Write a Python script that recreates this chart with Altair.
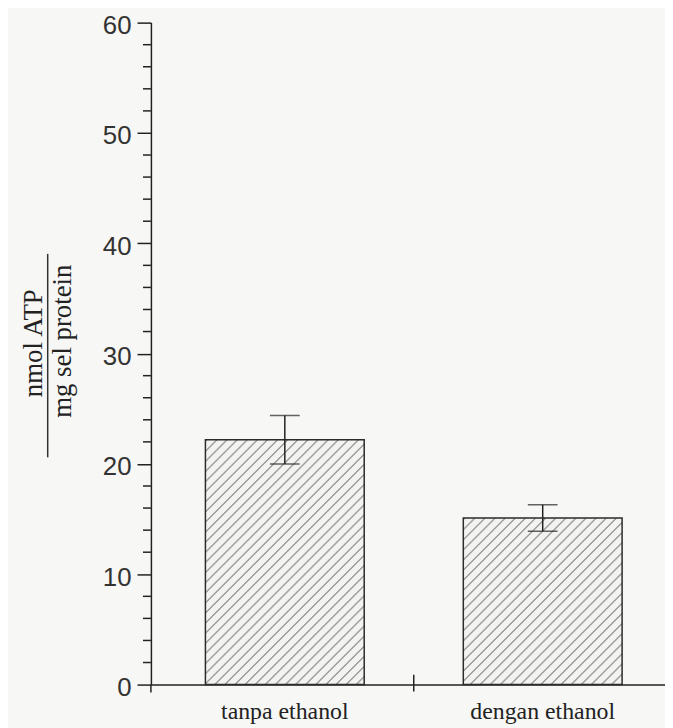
import altair as alt
import pandas as pd

# ---- data ----
categories = ["tanpa ethanol", "dengan ethanol"]
means = [22.2, 15.1]
errors = [2.2, 1.2]
y_major_ticks = [0, 10, 20, 30, 40, 50, 60]
y_minor_ticks = [2, 4, 6, 8, 12, 14, 16, 18, 22, 24, 26, 28, 32, 34, 36, 38,
                 42, 44, 46, 48, 52, 54, 56, 58]
y_title_top = ["nmol ATP"]
y_title_bottom = ["mg sel protein"]

# ---- layout / style ----
W, H = 518, 667
X_MAX = 1.955
Y_MAX = 60
BAR_PX = 160
INK = "#222222"
BG = "#f7f7f5"
HATCH_BG = "#f3f3f2"
HATCH_LINE = "#a2a2a2"

df = pd.DataFrame({"category": categories, "mean": means, "err": errors})
df["pos"] = [i + 0.5 for i in range(len(categories))]
df["lo"] = df["mean"] - df["err"]
df["hi"] = df["mean"] + df["err"]

xscale = alt.Scale(domain=[0, X_MAX], nice=False, zero=False)
yscale = alt.Scale(domain=[0, Y_MAX], nice=False)

x_axis = alt.Axis(ticks=False, labels=False, grid=False, title=None,
                  domainColor=INK, domainWidth=1.5)
y_axis = alt.Axis(values=y_major_ticks, tickSize=14, tickWidth=1.5, tickColor=INK,
                  domainColor=INK, domainWidth=1.5, grid=False, title=None,
                  labelFont="Liberation Sans", labelFontSize=26, labelColor="#333333",
                  labelPadding=6, labelFlush=False, labelBaseline="alphabetic",
                  labelOffset=11)


def hatch(value):
    """Diagonal hatch texture as a striped linear gradient (bbox units)."""
    h = value / Y_MAX * H
    w = BAR_PX
    S = w + h * h / w
    period = 7.2 * 2 ** 0.5 / S
    stops = []
    k = 0
    while k * period < 1.0:
        a = k * period
        for off, col in ((a, HATCH_BG), (a + 0.10 * period, HATCH_LINE),
                         (a + 0.21 * period, HATCH_LINE), (a + 0.31 * period, HATCH_BG)):
            if off <= 1.0:
                stops.append({"offset": off, "color": col})
        k += 1
    return {"gradient": "linear", "x1": 0, "y1": 0, "x2": 1, "y2": h / w, "stops": stops}


layers = []
for cat, m in zip(categories, means):
    layers.append(
        alt.Chart(df).transform_filter(alt.datum.category == cat)
        .mark_bar(size=BAR_PX, orient="vertical", fill=hatch(m), stroke="#2b2b2b", strokeWidth=1.5)
        .encode(x=alt.X("pos:Q", scale=xscale, axis=x_axis),
                y=alt.Y("mean:Q", scale=yscale, axis=y_axis))
    )

err_rule = alt.Chart(df).mark_rule(color=INK, strokeWidth=1.5).encode(
    x=alt.X("pos:Q", scale=xscale, axis=x_axis),
    y=alt.Y("lo:Q", scale=yscale, axis=y_axis),
    y2="hi:Q",
)
cap_lo = alt.Chart(df).mark_tick(orient="horizontal", size=30, thickness=1.5, color=INK).encode(
    x=alt.X("pos:Q", scale=xscale, axis=x_axis),
    y=alt.Y("lo:Q", scale=yscale, axis=y_axis),
)
cap_hi = alt.Chart(df).mark_tick(orient="horizontal", size=30, thickness=1.5, color=INK).encode(
    x=alt.X("pos:Q", scale=xscale, axis=x_axis),
    y=alt.Y("hi:Q", scale=yscale, axis=y_axis),
)

minor = alt.Chart(pd.DataFrame({"v": y_minor_ticks})).mark_rule(color=INK, strokeWidth=1.5).encode(
    y=alt.Y("v:Q", scale=yscale, axis=y_axis),
    x=alt.value(-8), x2=alt.value(0),
)

# y axis line running a little below the x axis, as in the scan
axis_tail = alt.Chart(pd.DataFrame({"a": [0]})).mark_rule(color=INK, strokeWidth=1.5).encode(
    x=alt.value(0), y=alt.value(H), y2=alt.value(H + 8))

boundaries = pd.DataFrame({"b": list(range(1, len(categories)))})
mid_tick = alt.Chart(boundaries).mark_rule(color=INK, strokeWidth=1.5).encode(
    x=alt.X("b:Q", scale=xscale, axis=x_axis),
    y=alt.value(H - 10), y2=alt.value(H + 7),
)

cat_labels = alt.Chart(df).mark_text(font="Liberation Serif", fontSize=24, align="center",
                                     baseline="alphabetic", color=INK).encode(
    x=alt.X("pos:Q", scale=xscale, axis=x_axis),
    y=alt.value(H + 35),
    text="category:N",
)

title_top = alt.Chart(pd.DataFrame({"t": y_title_top})).mark_text(
    font="Liberation Serif", fontSize=27, angle=270, align="center", baseline="alphabetic",
    color=INK).encode(x=alt.value(-110), y=alt.value(323), text="t:N")
title_bottom = alt.Chart(pd.DataFrame({"t": y_title_bottom})).mark_text(
    font="Liberation Serif", fontSize=27, angle=270, align="center", baseline="alphabetic",
    color=INK).encode(x=alt.value(-81), y=alt.value(321), text="t:N")
frac_line = alt.Chart(pd.DataFrame({"a": [0]})).mark_rule(color="#333333", strokeWidth=1.5).encode(
    x=alt.value(-104), y=alt.value(233), y2=alt.value(438))

chart = alt.layer(
    *layers, err_rule, cap_lo, cap_hi, minor, axis_tail, mid_tick, cat_labels,
    title_top, title_bottom, frac_line,
).properties(
    width=W, height=H,
    padding={"left": 144, "top": 12, "right": 0, "bottom": 41},
    autosize=alt.AutoSizeParams(type="none"),
    background=BG,
).configure_view(strokeWidth=0)

chart.save("out.html", embed_options={"renderer": "svg", "actions": False})
